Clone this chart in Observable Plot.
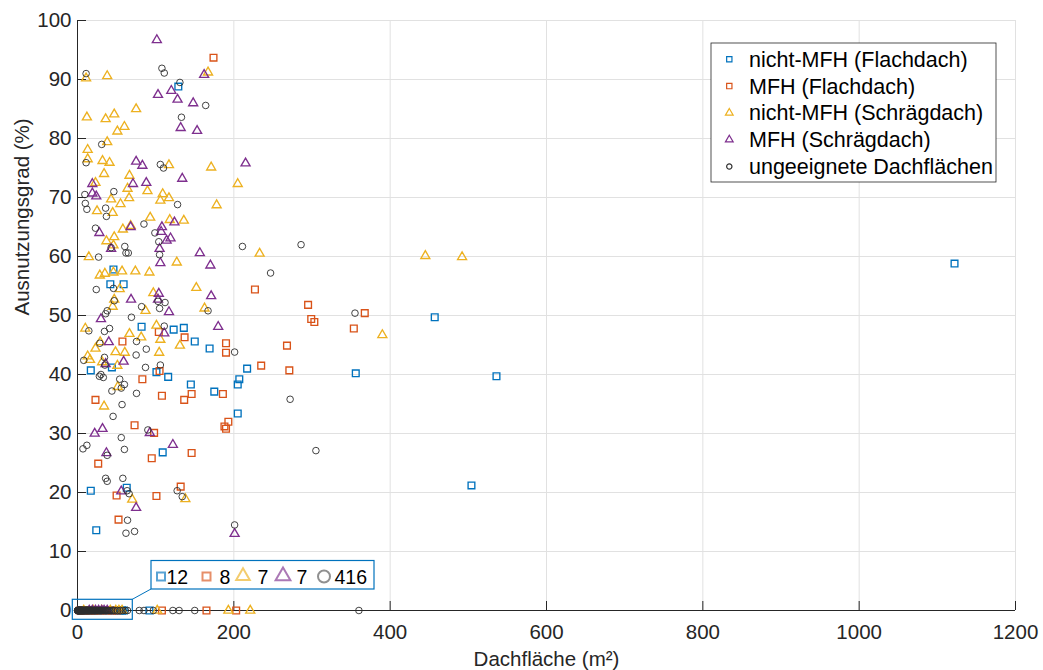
<!DOCTYPE html>
<html><head><meta charset="utf-8">
<script src="https://cdn.jsdelivr.net/npm/d3@7"></script>
<script src="https://cdn.jsdelivr.net/npm/@observablehq/plot@0.6"></script>
<style>body{margin:0;background:#fff} svg{display:block}</style>
</head><body><div id="chart"></div>
<script>
const FONT = "'Liberation Sans', Arial, Helvetica, sans-serif";

const seriesNames = ["nicht-MFH (Flachdach)", "MFH (Flachdach)", "nicht-MFH (Schrägdach)", "MFH (Schrägdach)", "ungeeignete Dachflächen"];
const seriesColors = ["#0072BD", "#D95319", "#EDB120", "#7E2F8E", "#2e2e2e"];
const seriesSymbols = ["square", "square", "triangle", "triangle", "circle"];
const xTicks = [0, 200, 400, 600, 800, 1000, 1200];
const yTicks = [0, 10, 20, 30, 40, 50, 60, 70, 80, 90, 100];
const xLabel = "Dachfläche (m²)";
const yLabel = "Ausnutzungsgrad (%)";
// counts of roofs at 0 % inside the highlighted box
const zeroCounts = [12, 8, 7, 7, 416];

// [Dachfläche, Ausnutzungsgrad]
const nichtMfhFlach = [[1122,58.8],[536,39.7],[457,49.7],[504,21.2],[356,40.2],[217,41.0],[207,39.2],[205,38.3],[205,33.4],[46,57.8],[42,55.3],[59,55.3],[82,48.1],[123,47.6],[136,47.9],[150,45.6],[169,44.4],[17,40.7],[44,41.2],[101,40.4],[116,39.6],[145,38.3],[175,37.1],[17,20.3],[24,13.6],[63,20.8],[109,26.8],[129,88.8]];
const mfhFlach = [[174,93.7],[104,47.2],[137,46.3],[57.5,45.6],[190,45.3],[190,43.7],[105,40.6],[83,39.2],[108,36.4],[146,36.7],[136.5,35.7],[186,36.7],[23,35.7],[73,31.4],[193,32.0],[188,31.2],[190,30.8],[98,30.1],[26.5,24.9],[95,25.8],[146,26.7],[132,21.0],[101,19.4],[50,19.5],[52.5,15.4],[227,54.4],[295,51.8],[367.5,50.4],[299,49.4],[303,48.9],[353.5,47.8],[268,44.9],[235,41.5],[271,40.7]];
const nichtMfhSchraeg = [[11,90.2],[38,90.6],[167,91.2],[12,83.6],[36,83.3],[47,84.1],[75,85.0],[60,82.0],[51,81.2],[13,78.1],[38,79.4],[13,76.5],[32,76.2],[41,75.9],[117,75.5],[171,75.1],[34,74.0],[66.5,73.7],[205,72.3],[23,72.5],[64,71.5],[43,69.7],[66,69.9],[89.5,71.1],[109,70.6],[106,69.5],[117,69.9],[55,68.9],[178,68.7],[25,67.7],[45,67.4],[93,66.6],[118,66.2],[136,66.1],[68,65.2],[58,64.6],[47,63.3],[37,62.6],[46,61.9],[14.5,59.9],[127,59.0],[233,60.5],[28.5,56.8],[35,57.1],[57,57.5],[46,57.3],[74,57.5],[92,57.3],[54,54.5],[97,53.8],[152,54.7],[47,52.7],[45,51.5],[87,50.8],[162.5,51.2],[10,47.8],[66.5,46.9],[101,48.3],[106,45.9],[81.5,46.3],[29,45.5],[23,44.4],[131,44.9],[48.6,43.8],[60.5,43.7],[104.5,43.7],[13,43.1],[16,42.5],[31.5,42.1],[51,41.5],[51.5,37.9],[34,34.6],[138,18.9],[70,18.8],[445,60.1],[492,59.9],[390,46.7]];
const mfhSchraeg = [[101.5,96.7],[162,90.8],[120,88.1],[103,87.4],[128,86.6],[148,86.0],[132,81.8],[153,81.3],[75,76.1],[83,75.4],[215,75.8],[134,73.2],[19,72.3],[71,72.3],[88,72.5],[19,70.7],[24,70.2],[124,65.8],[108,65.0],[68,65.0],[107,64.2],[28,64.0],[114,62.7],[119,63.1],[43,61.3],[105,61.3],[106,58.9],[156.5,60.6],[170,58.5],[104,53.7],[103,52.7],[171,53.3],[68.5,52.7],[117,50.6],[30,49.4],[111,47.0],[40,45.5],[180,48.1],[59,42.2],[36,41.8],[92.5,30.1],[22,30.0],[32,30.8],[37,26.7],[122,28.1],[56,20.2],[75,17.4],[201,13.0]];
const ungeeignet = [[11,91.0],[108,91.9],[111,91.1],[131,89.5],[164,85.6],[133,83.6],[31,79.0],[11,75.9],[106,75.6],[110,75.0],[9.4,70.5],[46.5,71.0],[128,68.8],[10,69.0],[12,68.0],[36,68.2],[37,66.8],[85,65.5],[23,64.8],[99,64.0],[104,62.5],[211,61.7],[60.5,61.7],[43,61.5],[27,59.9],[62,60.6],[65,60.6],[105,60.3],[286,62.0],[247,57.2],[24,54.4],[46,54.6],[103,52.4],[112,52.2],[105,51.2],[47,52.5],[82,51.5],[38,50.8],[36,50.3],[167,50.8],[69,49.7],[14.5,47.4],[34.5,47.3],[41,47.8],[111,48.2],[75.5,45.6],[28.5,45.3],[201,43.8],[88,44.3],[75,43.3],[34.5,42.9],[8,42.4],[35,41.6],[87,41.2],[106,41.6],[30,40.0],[33,39.5],[28,39.7],[54,39.2],[60,38.3],[56,37.7],[44,37.2],[75.5,36.8],[57,34.9],[45.5,32.9],[90,30.6],[56,29.3],[7,27.4],[12,28.0],[60,27.3],[38,26.3],[36,22.4],[38,21.9],[58,22.4],[127.5,20.3],[134,19.3],[63.5,20.3],[66,19.8],[64,15.3],[62,13.1],[73,13.4],[201,14.5],[355,50.4],[272,35.8],[305,27.1]];

// Dachfläche of roofs with 0 % Ausnutzungsgrad (estimated from the dense row at y = 0)
const zeroNichtMfhFlach = [4,11,19,26,33,40,46,49,52,55,57,59,92];
const zeroMfhFlach = [3,9,16,22,29,37,44,51,108,165,203];
const zeroNichtMfhSchraeg = [8,20,31,42,49,53,57,102,193,221];
const zeroMfhSchraeg = [15,19,23,27,31,34,38];
const zeroUngeeignet = [0.0,0.1,0.3,0.4,0.6,0.7,0.9,1.1,1.2,1.4,1.6,1.7,1.9,2.1,2.3,2.4,2.6,2.8,3.0,3.2,3.3,3.5,3.7,3.9,4.1,4.3,4.5,4.7,4.9,5.1,5.3,5.5,5.7,5.9,6.2,6.4,6.6,6.8,7.1,7.3,7.5,7.8,8.0,8.3,8.5,8.8,9.0,9.3,9.6,9.8,10.1,10.4,10.7,11.0,11.3,11.6,11.9,12.2,12.5,12.8,13.1,13.5,13.8,14.2,14.5,14.9,15.2,15.6,16.0,16.4,16.8,17.2,17.6,18.0,18.4,18.9,19.3,19.8,20.2,20.7,21.2,21.7,22.2,22.7,23.3,23.8,24.4,25.0,25.6,26.2,26.9,27.5,28.2,28.9,29.7,30.4,31.2,32.1,33.0,33.9,34.9,36.0,37.2,38.6,40.1,41.8,43.7,45.9,48.4,51.2,54.5,58.0,61.3,64.0,79,85,97,122,130,150,360];

const withZeros = (pairs, zeros) => pairs.concat(zeros.map(x => [x, 0]));
const series = [
  withZeros(nichtMfhFlach, zeroNichtMfhFlach),
  withZeros(mfhFlach, zeroMfhFlach),
  withZeros(nichtMfhSchraeg, zeroNichtMfhSchraeg),
  withZeros(mfhSchraeg, zeroMfhSchraeg),
  withZeros(ungeeignet, zeroUngeeignet)
];
const radii = [3.8, 3.8, 3.35, 3.35, 3.3];
const widths = [1.35, 1.35, 1.35, 1.35, 0.9];

const chart = Plot.plot({
  width: 1043,
  height: 670,
  marginLeft: 77,
  marginRight: 28,
  marginTop: 20,
  marginBottom: 60,
  style: {fontFamily: FONT, fontSize: "20px", color: "#262626", background: "white"},
  x: {domain: [0, 1200]},
  y: {domain: [0, 100]},
  marks: [
    Plot.gridX(xTicks, {stroke: "#e1e1e1", strokeOpacity: 1}),
    Plot.gridY(yTicks, {stroke: "#e1e1e1", strokeOpacity: 1}),
    Plot.axisX({ticks: xTicks, tickSize: 0, tickPadding: 14, fontSize: 20.5, label: null, tickFormat: d => String(d)}),
    Plot.axisY({ticks: yTicks, tickSize: 0, tickPadding: 6, fontSize: 20.5, label: null, tickFormat: d => String(d)}),
    Plot.ruleX(xTicks, {x: d => d, y1: 0, y2: 0, insetTop: -9, stroke: "#262626"}),
    Plot.ruleY(yTicks, {y: d => d, x1: 0, x2: 0, insetRight: -9, stroke: "#262626"}),
    Plot.ruleY([0], {stroke: "#262626"}),
    Plot.ruleX([0], {stroke: "#262626"}),
    ...series.map((data, i) => Plot.dot(data, {
      x: d => d[0], y: d => d[1], symbol: seriesSymbols[i], r: radii[i],
      stroke: seriesColors[i], fill: "none", strokeWidth: widths[i]
    })),
    Plot.text([xLabel], {text: d => d, frameAnchor: "bottom", dy: 49, fontSize: 20.5, fill: "#262626", lineAnchor: "middle"}),
    Plot.text([yLabel], {text: d => d, frameAnchor: "left", dx: -55, rotate: -90, fontSize: 20.5, fill: "#262626", lineAnchor: "middle"})
  ]
});
document.getElementById("chart").appendChild(chart);

// ---- annotation (box around the 0-row + callout with counts) ----
const svg = d3.select(chart);
const ann = svg.append("g").attr("font-family", FONT).attr("text-anchor", "start");
ann.append("rect").attr("x", 72.3).attr("y", 599.3).attr("width", 60).attr("height", 20)
  .attr("fill", "none").attr("stroke", "#0072BD").attr("stroke-width", 1.2);
ann.append("line").attr("x1", 132.3).attr("y1", 599.3).attr("x2", 151).attr("y2", 589)
  .attr("stroke", "#0072BD").attr("stroke-width", 1);
ann.append("rect").attr("x", 151).attr("y", 560.5).attr("width", 223).attr("height", 28.5)
  .attr("fill", "white").attr("stroke", "#0072BD").attr("stroke-width", 1.2);
const calloutItems = [
  {mx: 161, tx: 166.5, size: 64, shape: d3.symbolSquare},
  {mx: 206.5, tx: 219.5, size: 64, shape: d3.symbolSquare},
  {mx: 243, tx: 257.5, size: 80, shape: d3.symbolTriangle},
  {mx: 283, tx: 296.5, size: 95, shape: d3.symbolTriangle},
  {mx: 324, tx: 334.5, size: 113, shape: d3.symbolCircle}
];
calloutItems.forEach((it, i) => {
  ann.append("path").attr("d", d3.symbol(it.shape, it.size)())
    .attr("transform", `translate(${it.mx},${it.shape === d3.symbolTriangle ? 576 : 576.5})`)
    .attr("fill", "none").attr("stroke", i === 4 ? "#555" : seriesColors[i])
    .attr("stroke-width", 2).attr("stroke-opacity", 0.65);
  ann.append("text").attr("x", it.tx).attr("y", 583.5).attr("font-size", 19.5).attr("fill", "#000")
    .attr("text-anchor", "start").text(String(zeroCounts[i]));
});

// ---- legend ----
const leg = svg.append("g").attr("font-family", FONT).attr("text-anchor", "start");
leg.append("rect").attr("x", 711).attr("y", 43).attr("width", 285).attr("height", 139)
  .attr("fill", "white").attr("stroke", "#262626").attr("stroke-width", 0.8);
const legSizes = [28, 28, 26, 26, 22];
seriesNames.forEach((name, i) => {
  const cy = 59.3 + i * 26.8;
  const shape = seriesSymbols[i] === "square" ? d3.symbolSquare : seriesSymbols[i] === "triangle" ? d3.symbolTriangle : d3.symbolCircle;
  leg.append("path").attr("d", d3.symbol(shape, legSizes[i])())
    .attr("transform", `translate(729.3,${cy})`)
    .attr("fill", "none").attr("stroke", seriesColors[i]).attr("stroke-width", 1.2);
  leg.append("text").attr("x", 749).attr("y", cy).attr("dy", "0.35em")
    .attr("font-size", 21.5).attr("fill", "#000").attr("text-anchor", "start").text(name);
});
</script>
</body></html>
